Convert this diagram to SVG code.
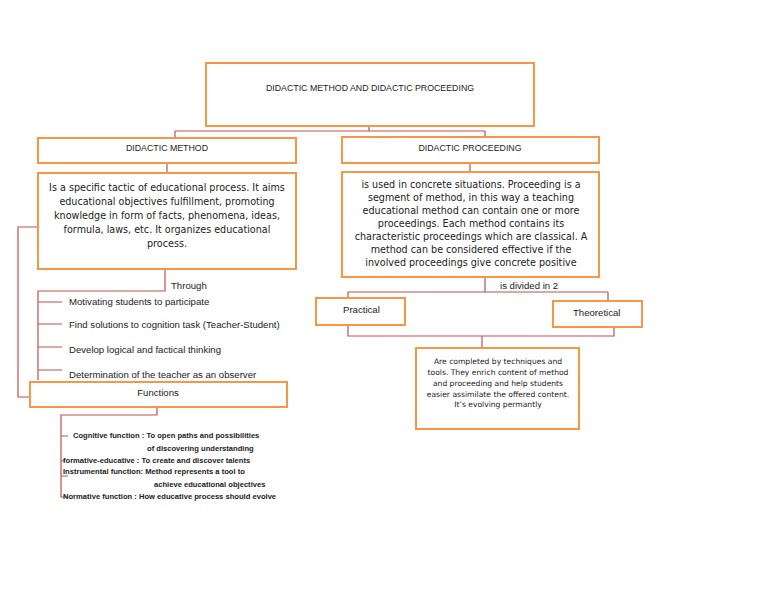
<svg xmlns="http://www.w3.org/2000/svg" width="768" height="594" viewBox="0 0 768 594">
<style>
.box{fill:#fff;stroke:#f79646;stroke-width:2}
.ln{fill:none;stroke:#c0504d;stroke-width:1.2}
.h{font-family:"Liberation Sans",Arial,sans-serif;font-size:8.8px;fill:#222;text-anchor:middle}
.p{font-family:"DejaVu Sans",Verdana,sans-serif;font-size:9.6px;fill:#222;text-anchor:middle}
.ps{font-family:"DejaVu Sans",Verdana,sans-serif;font-size:7.6px;fill:#222;text-anchor:middle}
.l{font-family:"Liberation Sans",Arial,sans-serif;font-size:9.6px;fill:#222}
.f{font-family:"Liberation Sans Narrow","Liberation Sans",Arial,sans-serif;font-size:7.6px;font-weight:bold;fill:#222}
</style>
<rect width="768" height="594" fill="#fff"/>
<g id="connectors">
<path class="ln" d="M369 126V131M175 131H485M175 131V138M485 131V137"/>
<path class="ln" d="M167 163V173M470 163V172"/>
<path class="ln" d="M38 227H18V397H30"/>
<path class="ln" d="M165 269V291H38V380M38 302H62M38 324H62M38 347H62M38 370H62"/>
<path class="ln" d="M157 407V415H61V497H68M61 436H68M61 461H65M61 476H68"/>
<path class="ln" d="M485 277V292M348 292H608M348 292V298M608 292V301"/>
<path class="ln" d="M348 325V336H614V327M482 336V348"/>
</g>
<g id="n-title"><rect class="box" x="206" y="63" width="328" height="63"/><text class="h" x="370" y="91">DIDACTIC METHOD AND DIDACTIC PROCEEDING</text></g>
<g id="n-method"><rect class="box" x="38" y="138" width="258" height="25"/><text class="h" x="167" y="151">DIDACTIC METHOD</text></g>
<g id="n-proceeding"><rect class="box" x="342" y="137" width="257" height="26"/><text class="h" x="470" y="151">DIDACTIC PROCEEDING</text></g>
<g id="n-method-text"><rect class="box" x="38" y="173" width="258" height="96"/>
<text class="p" x="167" y="191">Is a specific tactic of educational process. It aims</text>
<text class="p" x="167" y="205">educational objectives fulfillment, promoting</text>
<text class="p" x="167" y="219">knowledge in form of facts, phenomena, ideas,</text>
<text class="p" x="167" y="233">formula, laws, etc. It organizes educational</text>
<text class="p" x="167" y="247">process.</text></g>
<g id="n-proc-text"><rect class="box" x="342" y="172" width="257" height="105"/>
<text class="p" x="471" y="188">is used in concrete situations. Proceeding is a</text>
<text class="p" x="471" y="201">segment of method, in this way a teaching</text>
<text class="p" x="471" y="214">educational method can contain one or more</text>
<text class="p" x="471" y="227">proceedings. Each method contains its</text>
<text class="p" x="471" y="240">characteristic proceedings which are classical. A</text>
<text class="p" x="471" y="253">method can be considered effective if the</text>
<text class="p" x="471" y="266">involved proceedings give concrete positive</text></g>
<g id="n-through"><text class="l" x="171" y="289">Through</text></g>
<g id="n-items">
<text class="l" x="69" y="305">Motivating students to participate</text>
<text class="l" x="69" y="328">Find solutions to cognition task (Teacher-Student)</text>
<text class="l" x="69" y="353">Develop logical and factical thinking</text>
<text class="l" x="69" y="378">Determination of the teacher as an observer</text>
</g>
<g id="n-functions"><rect class="box" x="30" y="382" width="257" height="25"/><text class="l" x="158" y="396" text-anchor="middle">Functions</text></g>
<g id="n-function-list">
<text class="f" x="73" y="438">Cognitive function : To open paths and possibilities</text>
<text class="f" x="147" y="451">of discovering understanding</text>
<text class="f" x="63" y="463">formative-educative : To create and discover talents</text>
<text class="f" x="63" y="474">Instrumental function: Method represents a tool to</text>
<text class="f" x="154" y="487">achieve educational objectives</text>
<text class="f" x="63" y="499">Normative function : How educative process should evolve</text>
</g>
<g id="n-divided"><text class="l" x="500" y="289">is divided in 2</text></g>
<g id="n-practical"><rect class="box" x="316" y="298" width="89" height="27"/><text class="l" x="343" y="313">Practical</text></g>
<g id="n-theoretical"><rect class="box" x="553" y="301" width="89" height="26"/><text class="l" x="573" y="316">Theoretical</text></g>
<g id="n-techniques"><rect class="box" x="416" y="348" width="163" height="81"/>
<text class="ps" x="498" y="364">Are completed by techniques and</text>
<text class="ps" x="498" y="375">tools. They enrich content of method</text>
<text class="ps" x="498" y="386">and proceeding and help students</text>
<text class="ps" x="498" y="397">easier assimilate the offered content.</text>
<text class="ps" x="498" y="407">It’s evolving permantly</text></g>
</svg>
